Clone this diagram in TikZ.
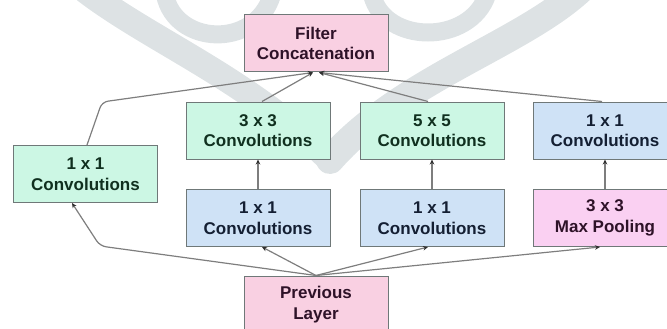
\documentclass[tikz,border=0pt]{standalone}
\usepackage{fontspec}
\setmainfont{Liberation Sans}
\usetikzlibrary{arrows.meta,calc}
\definecolor{wm}{HTML}{DDE2E4}
\definecolor{gfill}{HTML}{CCF7E4}
\definecolor{bfill}{HTML}{CFE2F6}
\definecolor{pfill}{HTML}{F9D0E2}
\definecolor{mfill}{HTML}{FAD0F2}
\definecolor{bord}{HTML}{6F7878}
\definecolor{gtext}{HTML}{10301F}
\definecolor{btext}{HTML}{141F33}
\definecolor{ptext}{HTML}{2E1228}
\definecolor{lcol}{HTML}{7E7E7E}
\definecolor{tipc}{HTML}{303030}
\begin{document}
\begin{tikzpicture}[x=1pt,y=-1pt,
  box/.style={draw=bord,line width=1pt,minimum width=144pt,minimum height=57pt,
    inner sep=0pt,align=center,font=\fontsize{17}{20.5}\selectfont\bfseries},
  gbox/.style={box,fill=gfill,text=gtext},
  bbox/.style={box,fill=bfill,text=btext},
  pbox/.style={box,fill=pfill,text=ptext},
  mbox/.style={box,fill=mfill,text=ptext},
  arr/.style={draw=lcol,line width=1.2pt,rounded corners=6pt,
    -{Stealth[length=5pt,width=4.5pt,color=tipc]}},
  wmark/.style={draw=wm,line cap=round}]
\useasboundingbox (0,0) rectangle (667,329);
% watermark
\draw[wmark,line width=26pt] (85,-10) .. controls (150,40) and (250,80) .. (330,160);
\draw[wmark,line width=28pt] (580,-10) .. controls (520,45) and (400,80) .. (330,160);
\draw[wmark,line width=18pt] (165,-5) .. controls (175,45) and (255,50) .. (272,-5);
\draw[wmark,line width=18pt] (372,-5) .. controls (385,45) and (470,45) .. (487,-5);
% nodes
\node[pbox] (fc) at (316,43.5) {Filter\\Concatenation};
\node[gbox] (c1) at (85.5,174) {1 x 1\\Convolutions};
\node[gbox] (c3) at (258,130.5) {3 x 3\\Convolutions};
\node[gbox] (c5) at (432,130.5) {5 x 5\\Convolutions};
\node[bbox] (cp) at (605,130.5) {1 x 1\\Convolutions};
\node[bbox] (r3) at (258,218) {1 x 1\\Convolutions};
\node[bbox] (r5) at (432,218) {1 x 1\\Convolutions};
\node[mbox] (mp) at (605,218) {3 x 3\\Max Pooling};
\node[pbox] (prev) at (316,304.5) {Previous\\Layer};
% bends
\coordinate (b1) at (100,246);
\coordinate (b2) at (102,102);
% connectors from previous layer
\draw[arr] (prev.north) -- (b1) -- ($(c1.south west)+(59,0)$);
\draw[arr] (prev.north) -- ($(r3.south)+(4,0)$);
\draw[arr] (prev.north) -- ($(r5.south)+(-4,0)$);
\draw[arr] (prev.north) -- ($(mp.south)+(-5,0)$);
% vertical
\draw[arr] (r3.north) -- (c3.south);
\draw[arr] (r5.north) -- (c5.south);
\draw[arr] (mp.north) -- (cp.south);
% to filter concatenation
\draw[arr] ($(c1.north)+(1.5,0)$) -- (b2) -- ($(fc.south)+(-3,0)$);
\draw[arr] ($(c3.north)+(4,0)$) -- ($(fc.south)+(-3,0)$);
\draw[arr] ($(c5.north)+(-4,0)$) -- ($(fc.south)+(3,0)$);
\draw[arr] ($(cp.north)+(-3,0)$) -- ($(fc.south)+(3,0)$);
\end{tikzpicture}
\end{document}
